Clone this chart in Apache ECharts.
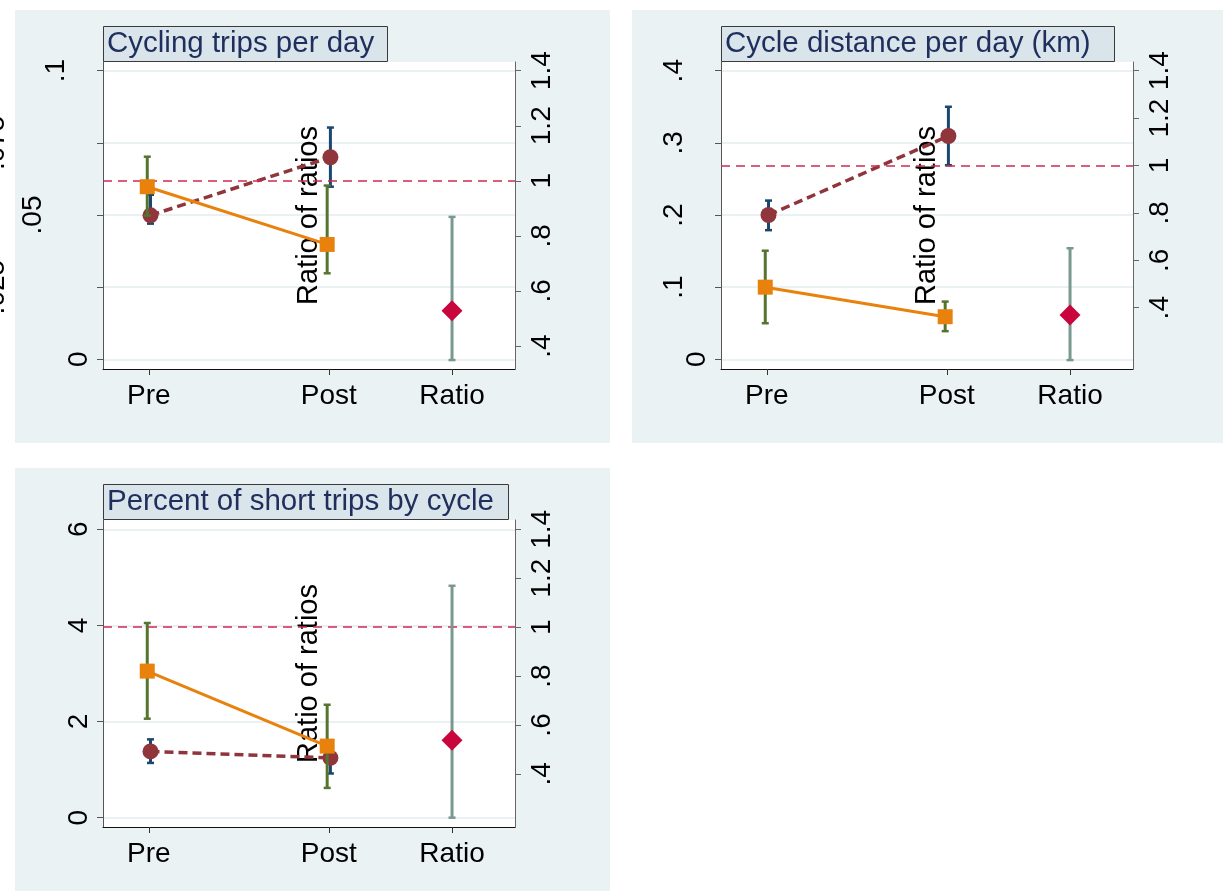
<!DOCTYPE html>
<html>
<head>
<meta charset="utf-8">
<script src="https://cdn.jsdelivr.net/npm/echarts@6/dist/echarts.min.js"></script>
<style>
html,body{margin:0;padding:0;background:#ffffff;}
#chart{width:1223px;height:891px;}
</style>
</head>
<body>
<div id="chart"></div>
<script>
// ---------------- data ----------------
const panelTitles = ['Cycling trips per day', 'Cycle distance per day (km)', 'Percent of short trips by cycle'];
const xCategories = ['Pre', 'Post', 'Ratio'];
const xCategoryPositions = [1, 2, 2.685];

const ratioTickValues = [0.4, 0.6, 0.8, 1, 1.2, 1.4];
const ratioTickLabels = ['.4', '.6', '.8', '1', '1.2', '1.4'];
const ratioReference = 1;

// Panel 1: Cycling trips per day
const tripsTickValues = [0, 0.025, 0.05, 0.075, 0.1];
const tripsTickLabels = ['0', '.025', '.05', '.075', '.1'];
const tripsOrange = [0.0598, 0.0398];
const tripsOrangeLow = [0.0498, 0.0298];
const tripsOrangeHigh = [0.0702, 0.0602];
const tripsMaroon = [0.0499, 0.0700];
const tripsMaroonLow = [0.0470, 0.0598];
const tripsMaroonHigh = [0.0570, 0.0803];
const tripsRatio = 0.528;
const tripsRatioLow = 0.349;
const tripsRatioHigh = 0.869;

// Panel 2: Cycle distance per day (km)
const distTickValues = [0, 0.1, 0.2, 0.3, 0.4];
const distTickLabels = ['0', '.1', '.2', '.3', '.4'];
const distOrange = [0.100, 0.059];
const distOrangeLow = [0.050, 0.039];
const distOrangeHigh = [0.1505, 0.080];
const distMaroon = [0.200, 0.3095];
const distMaroonLow = [0.179, 0.269];
const distMaroonHigh = [0.220, 0.350];
const distRatio = 0.369;
const distRatioLow = 0.179;
const distRatioHigh = 0.651;

// Panel 3: Percent of short trips by cycle
const pctTickValues = [0, 2, 4, 6];
const pctTickLabels = ['0', '2', '4', '6'];
const pctOrange = [3.05, 1.49];
const pctOrangeLow = [2.06, 0.62];
const pctOrangeHigh = [4.05, 2.35];
const pctMaroon = [1.38, 1.245];
const pctMaroonLow = [1.14, 0.92];
const pctMaroonHigh = [1.63, 1.55];
const pctRatio = 0.537;
const pctRatioLow = 0.221;
const pctRatioHigh = 1.169;

// ---------------- layout / style ----------------
const FONT = '"Liberation Sans", Arial, Helvetica, sans-serif';
const C = {
  panelBg: '#eaf2f3',
  titleBg: '#d9e5ea',
  titleText: '#1f2e5c',
  orange: '#e8820c',
  green: '#55752f',
  navy: '#1a476f',
  maroon: '#90353b',
  teal: '#789890',
  cranberry: '#c8053d',
  refLine: '#d02a52',
  grid: '#e3ecef'
};

const panels = [
  {
    dx: 0, dy: 0, bg: [15, 10, 595, 433], titlePadRight: 14,
    leftRange: [-0.00336, 0.10301], rightRange: [0.3165, 1.4316],
    ticks: tripsTickValues, labels: tripsTickLabels,
    orange: tripsOrange, orangeLow: tripsOrangeLow, orangeHigh: tripsOrangeHigh,
    maroon: tripsMaroon, maroonLow: tripsMaroonLow, maroonHigh: tripsMaroonHigh,
    ratio: tripsRatio, ratioLow: tripsRatioLow, ratioHigh: tripsRatioHigh
  },
  {
    dx: 618, dy: 0, bg: [632, 10, 591, 433], titlePadRight: 24,
    leftRange: [-0.01344, 0.41206], rightRange: [0.1414, 1.4367],
    ticks: distTickValues, labels: distTickLabels,
    orange: distOrange, orangeLow: distOrangeLow, orangeHigh: distOrangeHigh,
    maroon: distMaroon, maroonLow: distMaroonLow, maroonHigh: distMaroonHigh,
    ratio: distRatio, ratioLow: distRatioLow, ratioHigh: distRatioHigh
  },
  {
    dx: 0, dy: 458, bg: [15, 468, 595, 423], titlePadRight: 15,
    leftRange: [-0.193, 6.193], rightRange: [0.1828, 1.4379],
    ticks: pctTickValues, labels: pctTickLabels,
    orange: pctOrange, orangeLow: pctOrangeLow, orangeHigh: pctOrangeHigh,
    maroon: pctMaroon, maroonLow: pctMaroonLow, maroonHigh: pctMaroonHigh,
    ratio: pctRatio, ratioLow: pctRatioLow, ratioHigh: pctRatioHigh
  }
];

const staggerPad = {1: 0, 2: 23, 3: 46, 4: 83};
const MARK_SHIFT = 0.009;

function nearestIndex(arr, v) {
  let best = 0, bd = Infinity;
  arr.forEach((a, i) => { const d = Math.abs(a - v); if (d < bd) { bd = d; best = i; } });
  return best;
}

function errBar(color, capHalf, width, capWidth) {
  return function (params, api) {
    const x = api.value(0);
    const a = api.coord([x, api.value(1)]);
    const b = api.coord([x, api.value(2)]);
    const st = {stroke: color, lineWidth: width, lineCap: 'butt'};
    const cs = {stroke: color, lineWidth: capWidth, lineCap: 'butt'};
    return {
      type: 'group',
      children: [
        {type: 'line', shape: {x1: a[0], y1: a[1], x2: b[0], y2: b[1]}, style: st},
        {type: 'line', shape: {x1: a[0] - capHalf, y1: a[1], x2: a[0] + capHalf, y2: a[1]}, style: cs},
        {type: 'line', shape: {x1: b[0] - capHalf, y1: b[1], x2: b[0] + capHalf, y2: b[1]}, style: cs}
      ]
    };
  };
}

const grids = [], xAxes = [], yAxes = [], series = [], titles = [], graphics = [];

const rich = {};
Object.keys(staggerPad).forEach(k => {
  rich['s' + k] = {fontSize: 28, fontFamily: FONT, color: '#000', padding: [0, 0, staggerPad[k], 0]};
});

panels.forEach((p, i) => {
  graphics.push({
    type: 'rect', z: -100, silent: true,
    shape: {x: p.bg[0], y: p.bg[1], width: p.bg[2], height: p.bg[3]},
    style: {fill: C.panelBg}
  });

  grids.push({
    left: 103 + p.dx, top: 62 + p.dy, width: 412, height: 307,
    show: true, backgroundColor: '#ffffff', borderWidth: 0,
    containLabel: false, outerBoundsMode: 'none'
  });

  titles.push({
    text: panelTitles[i],
    left: 103 + p.dx, top: 26 + p.dy,
    padding: [3, p.titlePadRight, 3, 4],
    backgroundColor: C.titleBg,
    borderColor: '#3a3a3a', borderWidth: 1,
    itemGap: 0,
    textStyle: {fontSize: 29.5, fontWeight: 'normal', color: C.titleText, fontFamily: FONT, lineHeight: 30}
  });

  xAxes.push({
    type: 'value', gridIndex: i, min: 0.745, max: 3.035,
    axisLine: {show: true, onZero: false, lineStyle: {color: '#111', width: 1}},
    axisTick: {show: true, inside: false, length: 6, customValues: xCategoryPositions, lineStyle: {color: '#333', width: 1}},
    axisLabel: {
      customValues: xCategoryPositions, margin: 13, fontSize: 28, fontFamily: FONT, color: '#000',
      formatter: v => xCategories[nearestIndex(xCategoryPositions, v)]
    },
    splitLine: {show: false}
  });

  const ticks = p.ticks, labels = p.labels;
  yAxes.push({
    type: 'value', gridIndex: i, position: 'left', min: p.leftRange[0], max: p.leftRange[1],
    axisLine: {show: true, onZero: false, lineStyle: {color: '#555', width: 1}},
    axisTick: {show: true, inside: false, length: 6, customValues: ticks, lineStyle: {color: '#555', width: 1}},
    axisLabel: {
      customValues: ticks, rotate: 90, margin: 10, fontSize: 28, fontFamily: FONT, color: '#000',
      formatter: v => { const t = labels[nearestIndex(ticks, v)]; return '{s' + t.length + '|' + t + '}'; },
      rich: rich
    },
    splitLine: {show: true, lineStyle: {color: C.grid, width: 1.5}}
  });

  yAxes.push({
    type: 'value', gridIndex: i, position: 'right', min: p.rightRange[0], max: p.rightRange[1],
    name: 'Ratio of ratios', nameLocation: 'middle', nameGap: -221, nameRotate: 90,
    nameMoveOverlap: false,
    nameTextStyle: {fontSize: 29, fontFamily: FONT, color: '#000'},
    axisLine: {show: true, onZero: false, lineStyle: {color: '#666', width: 1}},
    axisTick: {show: true, inside: false, length: 6, customValues: ratioTickValues, lineStyle: {color: '#666', width: 1}},
    axisLabel: {
      customValues: ratioTickValues, rotate: 90, margin: 13, fontSize: 28, fontFamily: FONT, color: '#000',
      formatter: v => ratioTickLabels[nearestIndex(ratioTickValues, v)]
    },
    splitLine: {show: false}
  });

  const yl = 2 * i, yr = 2 * i + 1;
  const pre = xCategoryPositions[0], post = xCategoryPositions[1], rat = xCategoryPositions[2];

  // navy CI for maroon series
  series.push({
    type: 'custom', xAxisIndex: i, yAxisIndex: yl, clip: false, z: 2,
    renderItem: errBar(C.navy, 3.5, 3, 2.5),
    encode: {x: 0, y: [1, 2]},
    data: [[pre + MARK_SHIFT, p.maroonLow[0], p.maroonHigh[0]], [post + MARK_SHIFT, p.maroonLow[1], p.maroonHigh[1]]]
  });
  // maroon dashed line + circles
  series.push({
    type: 'line', xAxisIndex: i, yAxisIndex: yl, z: 3,
    symbol: 'circle', symbolSize: 16, showAllSymbol: true,
    itemStyle: {color: C.maroon, opacity: 1},
    lineStyle: {color: C.maroon, width: 3.5, type: [9, 5]},
    data: [[pre + MARK_SHIFT, p.maroon[0]], [post + MARK_SHIFT, p.maroon[1]]]
  });
  // green CI for orange series
  series.push({
    type: 'custom', xAxisIndex: i, yAxisIndex: yl, clip: false, z: 4,
    renderItem: errBar(C.green, 3.5, 3, 2.5),
    encode: {x: 0, y: [1, 2]},
    data: [[pre - MARK_SHIFT, p.orangeLow[0], p.orangeHigh[0]], [post - MARK_SHIFT, p.orangeLow[1], p.orangeHigh[1]]]
  });
  // orange solid line + squares
  series.push({
    type: 'line', xAxisIndex: i, yAxisIndex: yl, z: 5,
    symbol: 'rect', symbolSize: 15, showAllSymbol: true,
    itemStyle: {color: C.orange, opacity: 1},
    lineStyle: {color: C.orange, width: 3},
    data: [[pre - MARK_SHIFT, p.orange[0]], [post - MARK_SHIFT, p.orange[1]]]
  });
  // ratio CI
  series.push({
    type: 'custom', xAxisIndex: i, yAxisIndex: yr, clip: false, z: 6,
    renderItem: errBar(C.teal, 3.5, 3, 2.5),
    encode: {x: 0, y: [1, 2]},
    data: [[rat, p.ratioLow, p.ratioHigh]]
  });
  // ratio diamond + reference line
  series.push({
    type: 'scatter', xAxisIndex: i, yAxisIndex: yr, z: 7,
    symbol: 'diamond', symbolSize: 21,
    itemStyle: {color: C.cranberry, opacity: 1},
    data: [[rat, p.ratio]],
    markLine: {
      silent: true, symbol: ['none', 'none'], label: {show: false},
      lineStyle: {color: C.refLine, width: 1.5, type: [9, 6], opacity: 1},
      emphasis: {disabled: true},
      data: [{yAxis: ratioReference}]
    }
  });
});

const chart = echarts.init(document.getElementById('chart'), null, {renderer: 'canvas'});
chart.setOption({
  animation: false,
  backgroundColor: '#ffffff',
  textStyle: {fontFamily: FONT},
  title: titles,
  grid: grids,
  xAxis: xAxes,
  yAxis: yAxes,
  graphic: {elements: graphics},
  series: series
});
</script>
</body>
</html>
